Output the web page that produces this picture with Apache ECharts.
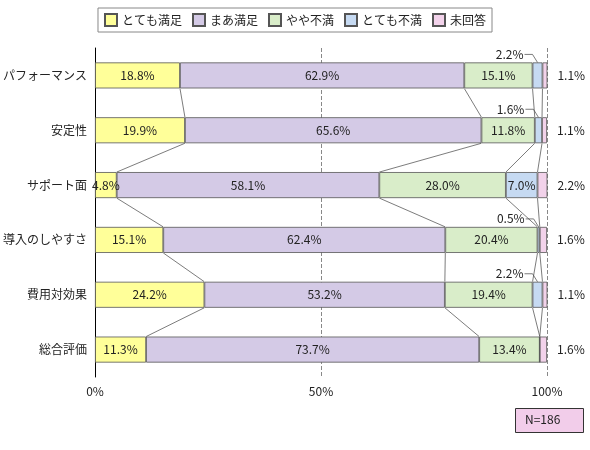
<!DOCTYPE html><html><head><meta charset="utf-8"><script src="https://cdn.jsdelivr.net/npm/echarts@6/dist/echarts.min.js"></script></head><body style="margin:0"><div id="c" style="width:590px;height:450px"></div><script>
const categories=['パフォーマンス','安定性','サポート面','導入のしやすさ','費用対効果','総合評価'];
const seriesNames=['とても満足','まあ満足','やや不満','とても不満','未回答'];
const v1=[18.8,19.9,4.8,15.1,24.2,11.3];
const v2=[62.9,65.6,58.1,62.4,53.2,73.7];
const v3=[15.1,11.8,28.0,20.4,19.4,13.4];
const v4=[2.2,1.6,7.0,0.5,2.2,0];
const v5=[1.1,1.1,2.2,1.6,1.1,1.6];
const xTicks=[0,50,100];
const colors=['#ffff99','#d4cae6','#d9edc9','#c6daf2','#f2d2ea'];
const vals=[v1,v2,v3,v4,v5];
const font='"Noto Sans CJK JP"';
const ch=echarts.init(document.getElementById('c'));
const series=vals.map((v,k)=>({name:seriesNames[k],type:'bar',stack:'a',barWidth:26,data:v,
 itemStyle:{color:colors[k],borderColor:'#555',borderWidth:0.8},
 label:{show:true,fontFamily:font,fontSize:12,color:'#222',
  position:k===4?'right':'inside',distance:10,
  formatter:p=>{if(k===3&&p.value<5)return '';return p.value.toFixed(1)+'%';}}}));
series.push({type:'custom',silent:true,z:1,data:categories.slice(0,-1).map((c,i)=>i),
 renderItem:(params,api)=>{const i=api.value(0);const h=13;const ch2=[];
  let c1=0,c2=0;for(let k=0;k<4;k++){c1+=vals[k][i];c2+=vals[k][i+1];
   const a=api.coord([c1,categories[i]]),b=api.coord([c2,categories[i+1]]);
   ch2.push({type:'line',shape:{x1:a[0],y1:a[1]+h,x2:b[0],y2:b[1]-h},style:{stroke:'#444',lineWidth:0.7}});}
  return {type:'group',children:ch2};},encode:{x:0}});
series.push({type:'custom',silent:true,z:5,data:categories.map((c,i)=>i).filter(i=>v4[i]>0&&v4[i]<5),
 renderItem:(params,api)=>{const i=api.value(0);const s=v1[i]+v2[i]+v3[i];
  const p=api.coord([s+v4[i]/2,categories[i]]);const ty=p[1]-21;const tx=p[0]-14;
  return {type:'group',children:[
   {type:'text',style:{text:v4[i].toFixed(1)+'%',x:tx,y:ty,align:'right',verticalAlign:'middle',font:'12px '+font,fill:'#222'}},
   {type:'polyline',shape:{points:[[tx+1,ty],[p[0]-5,ty],[p[0],p[1]-13]]},style:{stroke:'#444',lineWidth:0.7,fill:null}}]};},encode:{x:0}});
ch.setOption({animation:false,
 legend:{top:8,left:'center',data:seriesNames,itemWidth:12,itemHeight:12,itemGap:10,borderColor:'#888',borderWidth:1,padding:[5,6],borderRadius:0,
  textStyle:{fontFamily:font,fontSize:12,color:'#222'},icon:'rect'},
 grid:{left:91,right:43,top:48,bottom:73},
 xAxis:{type:'value',min:0,max:100,interval:50,axisLine:{show:false},axisTick:{show:false},
  splitLine:{show:true,lineStyle:{type:'dashed',color:'#888'}},
  axisLabel:{formatter:'{value}%',fontFamily:font,fontSize:12,color:'#222',margin:8}},
 yAxis:{type:'category',inverse:true,data:categories,axisLine:{lineStyle:{color:'#000'}},
  axisTick:{inside:true,length:8,lineStyle:{color:'#000'}},axisLabel:{fontFamily:font,fontSize:12,color:'#222',margin:8}},
 series,
 graphic:[{type:'rect',left:515,top:408,shape:{width:68,height:24},style:{fill:'#f2cdea',stroke:'#333',lineWidth:1}},
  {type:'text',left:525,top:413,style:{text:'N=186',font:'12px '+font,fill:'#222'}}]});
</script></body></html>
